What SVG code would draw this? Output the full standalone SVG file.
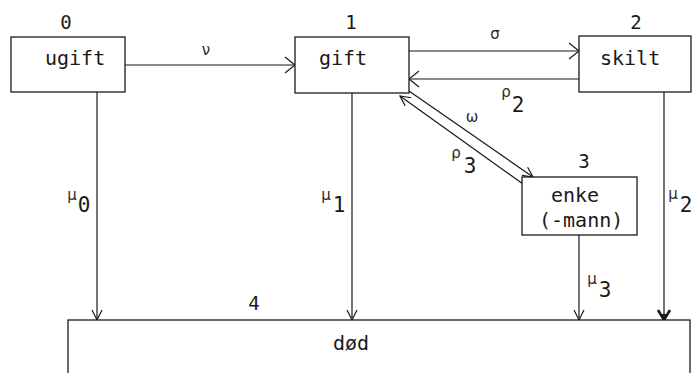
<svg xmlns="http://www.w3.org/2000/svg" width="692" height="373" viewBox="0 0 692 373">
<style>
.box{fill:#fff;stroke:#1a1a1a;stroke-width:1.3}
.ln{fill:none;stroke:#1a1a1a;stroke-width:1.2}
.t{font-family:"DejaVu Sans Mono","Liberation Mono",monospace;font-size:20px;fill:#1a1a1a}
.n{font-family:"DejaVu Sans Mono","Liberation Mono",monospace;font-size:19px;fill:#1a1a1a;text-anchor:middle}
.g{font-family:"DejaVu Sans","Liberation Sans",sans-serif;font-size:15px;fill:#2a2a2a;text-anchor:middle}
.s{font-family:"DejaVu Sans Mono","Liberation Mono",monospace;font-size:21px;fill:#1a1a1a;text-anchor:middle}
</style>
<defs>
<marker id="av" markerUnits="userSpaceOnUse" markerWidth="12" markerHeight="12" refX="10" refY="5" orient="auto" overflow="visible">
<path d="M0,0 L10,5 L0,10" fill="none" stroke="#1a1a1a" stroke-width="1.2"/>
</marker>
<marker id="ah" markerUnits="userSpaceOnUse" markerWidth="12" markerHeight="18" refX="10" refY="8" orient="auto" overflow="visible">
<path d="M0,0 L10,8 L0,16" fill="none" stroke="#1a1a1a" stroke-width="1.2"/>
</marker>
<marker id="ab" markerUnits="userSpaceOnUse" markerWidth="14" markerHeight="14" refX="10" refY="6" orient="auto" overflow="visible">
<path d="M0,0 L10,6 L0,12" fill="none" stroke="#1a1a1a" stroke-width="2.6"/>
<path d="M4,3.5 L10,6 L4,8.5 Z" fill="#1a1a1a"/>
</marker>
</defs>
<rect width="692" height="373" fill="#fff"/>
<g id="connectors">
<line class="ln" x1="125" y1="65" x2="295" y2="65" marker-end="url(#ah)"/>
<line class="ln" x1="409" y1="51" x2="579" y2="51" marker-end="url(#ah)"/>
<line class="ln" x1="579" y1="79" x2="409" y2="79" marker-end="url(#ah)"/>
<line class="ln" x1="409" y1="91" x2="533" y2="177" marker-end="url(#av)"/>
<line class="ln" x1="523" y1="184" x2="400" y2="96" marker-end="url(#av)"/>
<line class="ln" x1="97" y1="92" x2="97" y2="320" marker-end="url(#av)"/>
<line class="ln" x1="352" y1="93" x2="352" y2="320" marker-end="url(#av)"/>
<line class="ln" x1="579" y1="235" x2="579" y2="320" marker-end="url(#av)"/>
<line class="ln" x1="664" y1="92" x2="664" y2="320" marker-end="url(#ab)"/>
</g>
<g id="node0">
<rect class="box" x="11" y="37" width="114" height="55"/>
<text class="t" x="45" y="65">ugift</text>
<text class="n" x="66" y="29">0</text>
</g>
<g id="node1">
<rect class="box" x="295" y="37" width="114" height="56"/>
<text class="t" x="319" y="65">gift</text>
<text class="n" x="351" y="29">1</text>
</g>
<g id="node2">
<rect class="box" x="579" y="36" width="112" height="56"/>
<text class="t" x="600" y="65">skilt</text>
<text class="n" x="636" y="29">2</text>
</g>
<g id="node3">
<rect class="box" x="522" y="177" width="115" height="58"/>
<text class="t" x="551" y="202">enke</text>
<text class="t" x="539" y="227">(-mann)</text>
<text class="n" x="584" y="168">3</text>
</g>
<g id="node4">
<rect class="box" x="68" y="320" width="622" height="70"/>
<text class="t" x="333" y="350">død</text>
<text class="n" x="254" y="310">4</text>
</g>
<g id="labels">
<text class="g" x="206" y="55">ν</text>
<text class="g" x="495" y="39">σ</text>
<text class="g" x="472" y="122">ω</text>
<text class="g" x="506" y="97">ρ</text><text class="s" x="518" y="112">2</text>
<text class="g" x="456" y="158">ρ</text><text class="s" x="470" y="173">3</text>
<text class="g" x="72" y="200">μ</text><text class="s" x="84" y="212">0</text>
<text class="g" x="326" y="200">μ</text><text class="s" x="339" y="212">1</text>
<text class="g" x="673" y="199">μ</text><text class="s" x="686" y="212">2</text>
<text class="g" x="592" y="284">μ</text><text class="s" x="605" y="297">3</text>
</g>
</svg>
